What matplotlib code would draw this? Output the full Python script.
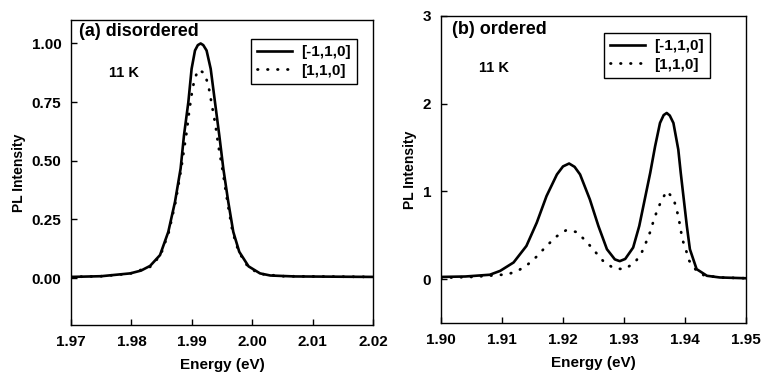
import matplotlib
matplotlib.use("Agg")
import matplotlib.pyplot as plt

plt.rcParams['font.family'] = ['Liberation Sans', 'DejaVu Sans']
plt.rcParams['font.weight'] = 'bold'

# (a) disordered
e_a_solid = [1.970, 1.975, 1.9798, 1.9816, 1.9831, 1.98474, 1.98611, 1.98722, 1.98815, 1.98871,
             1.98943, 1.98997, 1.99053, 1.9910, 1.99147, 1.9919, 1.99245, 1.99313,
             1.99384, 1.99455, 1.99522, 1.99604, 1.99687, 1.99786, 1.9994, 2.0013, 2.0030,
             2.007, 2.020]
i_a_solid = [0.005, 0.008, 0.020, 0.032, 0.052, 0.098, 0.197, 0.325, 0.467, 0.609,
             0.750, 0.892, 0.970, 0.993, 1.000, 0.993, 0.970, 0.892,
             0.750, 0.609, 0.467, 0.325, 0.197, 0.112, 0.050, 0.020, 0.011,
             0.007, 0.005]
e_a_dot = [1.970, 1.975, 1.9798, 1.9832, 1.98484, 1.98621, 1.98732, 1.98825, 1.98915, 1.98959,
           1.99008, 1.99048, 1.99108, 1.99207, 1.99273, 1.99329, 1.99391, 1.99439, 1.99505,
           1.99590, 1.99675, 1.99776, 1.9993, 2.0012, 2.005, 2.020]
i_a_dot = [0.005, 0.008, 0.019, 0.049, 0.098, 0.197, 0.325, 0.467, 0.623, 0.715,
           0.800, 0.850, 0.888, 0.874, 0.824, 0.743, 0.654, 0.566, 0.467,
           0.325, 0.197, 0.112, 0.048, 0.018, 0.008, 0.005]

# (b) ordered
e_b_solid = [1.900, 1.904, 1.908, 1.9097, 1.9119, 1.9140, 1.9157, 1.9173, 1.9190, 1.9200,
             1.9210, 1.9219, 1.9228, 1.9244, 1.9258, 1.9272, 1.9285, 1.9293, 1.9302, 1.9315,
             1.9325, 1.9334, 1.9343, 1.9351, 1.9359, 1.9365, 1.9370, 1.9375, 1.9381, 1.9389,
             1.9393, 1.9398, 1.9403, 1.9408, 1.9419, 1.9436, 1.9457, 1.9500]
i_b_solid = [0.025, 0.030, 0.050, 0.094, 0.190, 0.378, 0.644, 0.947, 1.193, 1.285,
             1.318, 1.280, 1.193, 0.909, 0.606, 0.341, 0.225, 0.205, 0.230, 0.360,
             0.606, 0.909, 1.212, 1.515, 1.780, 1.870, 1.894, 1.865, 1.780, 1.477,
             1.212, 0.909, 0.606, 0.341, 0.114, 0.038, 0.019, 0.010]
e_b_dot = [1.900, 1.905, 1.9091, 1.9109, 1.9125, 1.9141, 1.9157, 1.9172, 1.9189, 1.9205,
           1.9222, 1.9238, 1.9252, 1.9267, 1.9284, 1.9301, 1.9318, 1.9329, 1.9336, 1.9343,
           1.9348, 1.9354, 1.9361, 1.9370, 1.9381, 1.9386, 1.9390, 1.9393, 1.9396, 1.9402,
           1.9407, 1.9419, 1.9432, 1.9460, 1.9500]
i_b_dot = [0.015, 0.025, 0.045, 0.055, 0.091, 0.159, 0.258, 0.371, 0.485, 0.557,
           0.538, 0.432, 0.318, 0.197, 0.121, 0.114, 0.190, 0.303, 0.417, 0.540,
           0.655, 0.776, 0.890, 1.003, 0.920, 0.803, 0.682, 0.560, 0.447, 0.322,
           0.208, 0.094, 0.040, 0.018, 0.010]

labels = ['[-1,1,0]', '[1,1,0]']
xt_a = [1.97, 1.98, 1.99, 2.00, 2.01, 2.02]
yt_a = [0.00, 0.25, 0.50, 0.75, 1.00]
xt_b = [1.90, 1.91, 1.92, 1.93, 1.94, 1.95]
yt_b = [0, 1, 2, 3]

fig = plt.figure(figsize=(7.61, 3.74), dpi=100)
ax1 = fig.add_axes([0.0933, 0.131, 0.3968, 0.8155])
ax2 = fig.add_axes([0.5795, 0.1364, 0.4008, 0.8209])

solid_style = dict(color='black', lw=1.9, solid_joinstyle='round')
dot_style = dict(color='black', lw=2.0, linestyle=(0, (0.2, 3.4)), dash_capstyle='round')

ax1.plot(e_a_solid, i_a_solid, label=labels[0], **solid_style)
ax1.plot(e_a_dot, i_a_dot, label=labels[1], **dot_style)
ax1.set_xlim(1.97, 2.02)
ax1.set_ylim(-0.2, 1.1)
ax1.set_xticks(xt_a)
ax1.set_xticklabels(['%.2f' % v for v in xt_a])
ax1.set_yticks(yt_a)
ax1.set_yticklabels(['%.2f' % v for v in yt_a])
ax1.text(0.025, 0.99, '(a) disordered', transform=ax1.transAxes, fontsize=13,
         fontweight='bold', va='top', ha='left')
ax1.text(0.125, 0.825, '11 K', transform=ax1.transAxes, fontsize=10.5,
         fontweight='bold', va='center', ha='left')

ax2.plot(e_b_solid, i_b_solid, label=labels[0], **solid_style)
ax2.plot(e_b_dot, i_b_dot, label=labels[1], **dot_style)
ax2.set_xlim(1.90, 1.95)
ax2.set_ylim(-0.5, 3)
ax2.set_xticks(xt_b)
ax2.set_xticklabels(['%.2f' % v for v in xt_b])
ax2.set_yticks(yt_b)
ax2.text(0.035, 0.985, '(b) ordered', transform=ax2.transAxes, fontsize=13,
         fontweight='bold', va='top', ha='left')
ax2.text(0.125, 0.83, '11 K', transform=ax2.transAxes, fontsize=10.5,
         fontweight='bold', va='center', ha='left')

legend_pos = {ax1: (0.947, 0.938), ax2: (0.882, 0.945)}
for ax in (ax1, ax2):
    for s in ax.spines.values():
        s.set_linewidth(1.0)
    ax.tick_params(direction='in', length=4, width=1.0, labelsize=11, pad=7,
                   top=False, right=False)
    for t in ax.get_xticklabels() + ax.get_yticklabels():
        t.set_fontweight('bold')
    ax.set_xlabel('Energy (eV)', fontsize=11, fontweight='bold', labelpad=7)
    ax.set_ylabel('PL Intensity', fontsize=10, fontweight='bold', labelpad=4)
    leg = ax.legend(loc='upper right', bbox_to_anchor=legend_pos[ax], frameon=True,
                    fancybox=False, edgecolor='black', framealpha=1, fontsize=11,
                    handlelength=2.3, handletextpad=0.6, borderpad=0.4,
                    labelspacing=0.3, borderaxespad=0)
    leg.get_frame().set_linewidth(1.0)
    for t in leg.get_texts():
        t.set_fontweight('bold')

fig.savefig('out.png', dpi=100)
